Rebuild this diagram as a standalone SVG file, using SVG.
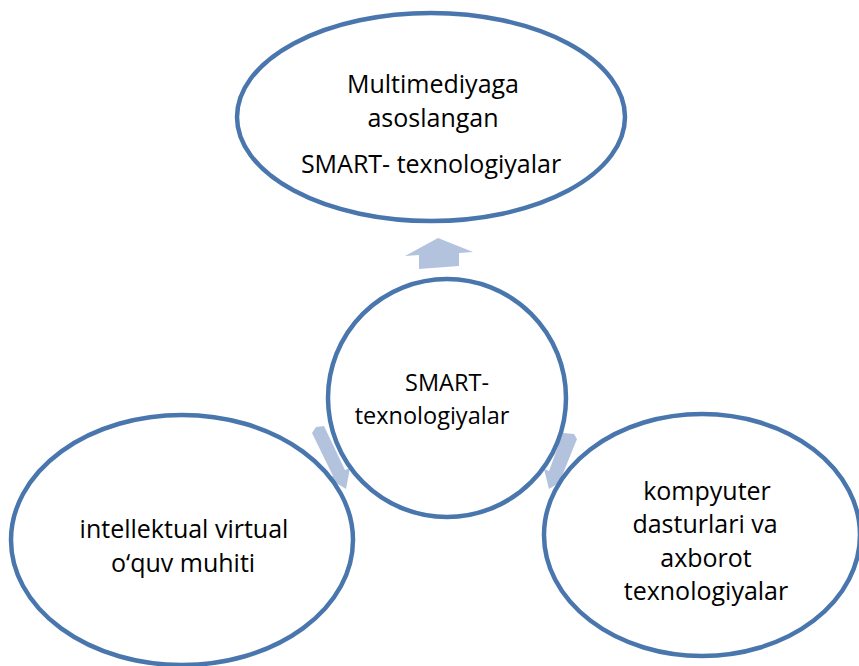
<svg xmlns="http://www.w3.org/2000/svg" width="859" height="666" viewBox="0 0 859 666">
<style>
.n{fill:#fff;stroke:#4a76ae;stroke-width:4.5}
.a{fill:#b3c3de;stroke:none}
text{font-family:"Open Sans","Liberation Sans",sans-serif;font-size:25px;fill:#000;text-anchor:middle}
.c{font-size:23.5px}
</style>
<rect width="859" height="666" fill="#fff"/>
<g id="connectors">
<polygon class="a" points="419,269 419,255 405,256 438,238 473,252 459,253 459,266"/>
<polygon class="a" points="316,427 324,426 345,470 350,468 346,489 328,478 333,476 312,433"/>
<polygon class="a" points="574,434 577,439 562,476 567,478 549,489 544,469 549,471 563,433"/>
</g>
<g id="node-top">
<ellipse class="n" cx="431" cy="117" rx="194" ry="104"/>
<text x="433" y="93">Multimediyaga</text>
<text x="433" y="127">asoslangan</text>
<text x="431" y="173">SMART- texnologiyalar</text>
</g>
<g id="node-center">
<circle class="n" cx="447" cy="398" r="119"/>
<text class="c" x="447" y="391">SMART-</text>
<text class="c" x="432" y="424">texnologiyalar</text>
</g>
<g id="node-left">
<ellipse class="n" cx="182" cy="540" rx="171" ry="125"/>
<text x="184" y="538">intellektual virtual</text>
<text x="183" y="572">o‘quv muhiti</text>
</g>
<g id="node-right">
<ellipse class="n" cx="702" cy="535" rx="158" ry="121"/>
<text x="707" y="500">kompyuter</text>
<text x="705" y="533">dasturlari va</text>
<text x="706" y="567">axborot</text>
<text x="706" y="600">texnologiyalar</text>
</g>
</svg>
